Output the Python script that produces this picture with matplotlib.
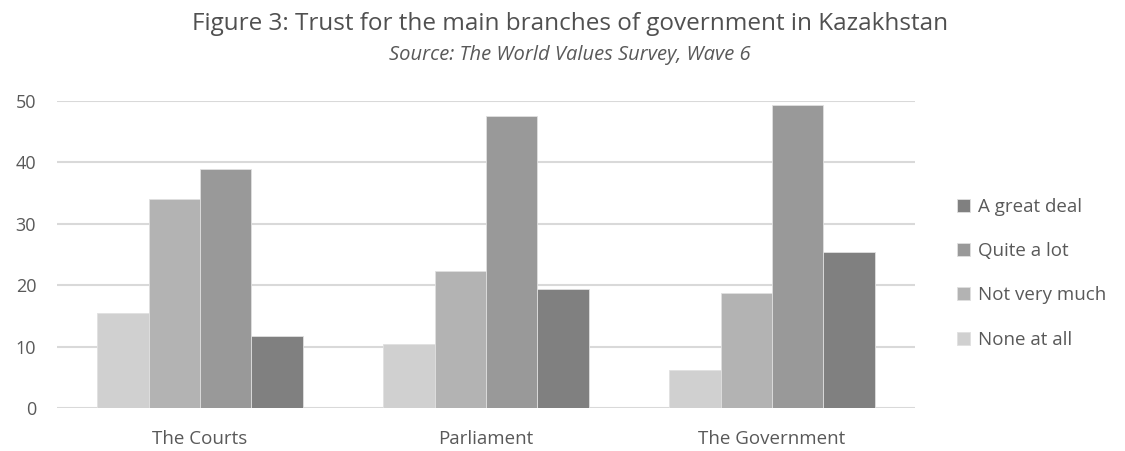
import matplotlib
matplotlib.use("Agg")
import matplotlib.pyplot as plt
import numpy as np

categories = ["The Courts", "Parliament", "The Government"]
series_names = ["None at all", "Not very much", "Quite a lot", "A great deal"]
none_at_all = [15.4, 10.5, 6.2]
not_very_much = [34.1, 22.3, 18.8]
quite_a_lot = [38.9, 47.6, 49.3]
a_great_deal = [11.8, 19.3, 25.4]
yticks = [0, 10, 20, 30, 40, 50]

colors = ["#d0d0d0", "#b3b3b3", "#999999", "#808080"]
series = [none_at_all, not_very_much, quite_a_lot, a_great_deal]

plt.rcParams['font.family'] = ['Open Sans', 'DejaVu Sans']

fig = plt.figure(figsize=(11.25, 4.51), dpi=100)
ax = fig.add_axes([57/1125, 43/451, (915-57)/1125, (408-101)/451])

x = np.arange(len(categories))
bw = 0.717 / 4
handles = []
for i, (vals, c, name) in enumerate(zip(series, colors, series_names)):
    b = ax.bar(x + (i - 1.5) * bw, vals, width=bw, color=c, edgecolor="#e0e0e0",
               linewidth=0.6, label=name, zorder=3)
    handles.append(b)

ax.set_xlim(-0.5, 2.5)
ax.set_ylim(0, 50)
ax.set_yticks(yticks)
ax.set_yticklabels([str(t) for t in yticks], fontsize=13, color="#595959")
ax.set_xticks(x)
ax.set_xticklabels(categories, fontsize=13.5, color="#595959")
ax.tick_params(axis="both", length=0)
ax.tick_params(axis="y", pad=15)
ax.tick_params(axis="x", pad=16)
ax.grid(axis="y", color="#d9d9d9", linewidth=1.5, zorder=0)
for s in ax.spines.values():
    s.set_visible(False)

fig.text(570/1125, 1 - 24/451, "Figure 3: Trust for the main branches of government in Kazakhstan",
         ha="center", va="center", fontsize=17.5, color="#505050")
fig.text(570/1125, 1 - 55/451, "Source: The World Values Survey, Wave 6",
         ha="center", va="center", fontsize=14.5, style="italic", color="#595959")

leg = fig.legend(handles[::-1], series_names[::-1], loc="upper left",
                 bbox_to_anchor=(940/1125, 1 - 181/451), frameon=False,
                 fontsize=13.5, labelcolor="#595959", handlelength=0.7, handleheight=0.7,
                 handletextpad=0.4, labelspacing=1.4)

fig.savefig("out.png", dpi=100)
